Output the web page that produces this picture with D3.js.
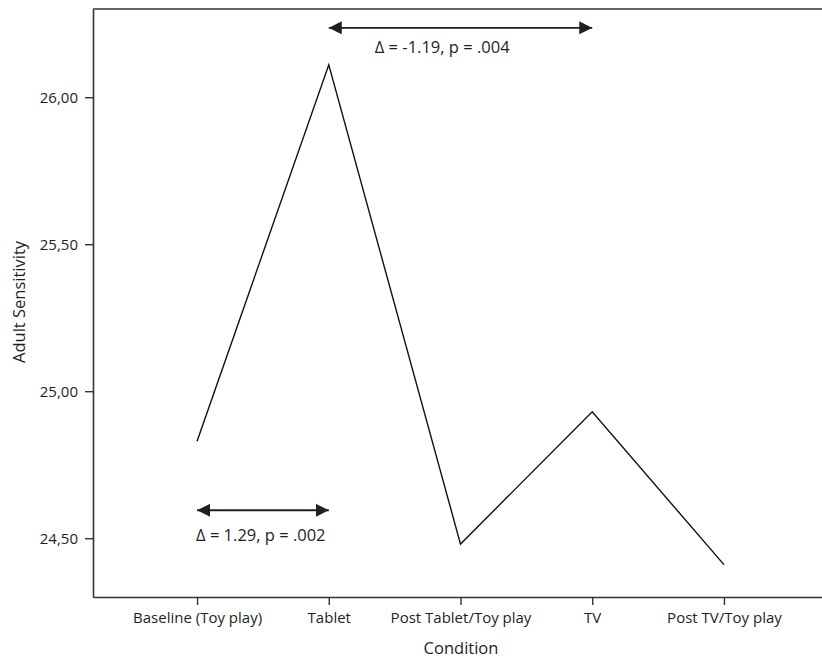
<!DOCTYPE html>
<html>
<head>
<meta charset="utf-8">
<script src="https://cdn.jsdelivr.net/npm/d3@7"></script>
<style>
  body { margin: 0; background: #fff; }
  text { font-family: "Open Sans", sans-serif; fill: #231f20; }
</style>
</head>
<body>
<div class="chart"></div>
<script>
// values
var conditions = ["Baseline (Toy play)", "Tablet", "Post Tablet/Toy play", "TV", "Post TV/Toy play"];
var sensitivity = [24.83, 26.11, 24.48, 24.93, 24.41];
var yTicks = [24.5, 25.0, 25.5, 26.0];
var comparisons = [
  {from: "Baseline (Toy play)", to: "Tablet", level: 24.595, label: "\u0394 = 1.29, p = .002"},
  {from: "Tablet", to: "TV", level: 26.236, label: "\u0394 = -1.19, p = .004"}
];

var svgWidth = 822;
var svgHeight = 660;
var margin = {top: 9, right: 0, bottom: 63, left: 93};
var width = svgWidth - margin.left - margin.right;
var height = svgHeight - margin.top - margin.bottom;

var svg = d3.select('.chart')
  .append('svg')
  .attr('width', svgWidth)
  .attr('height', svgHeight);

var chart = svg.append('g')
  .attr('transform', 'translate(' + margin.left + ',' + margin.top + ')');

// scales
var x = d3.scalePoint().domain(conditions).range([0, 735]).padding(0.79);
var y = d3.scaleLinear().domain([24.3, 26.3]).range([height, 0]);

var fmt = function(d) { return d3.format('.2f')(d).replace('.', ','); };

// y axis
var yAxis = chart.append('g')
  .call(d3.axisLeft(y).tickValues(yTicks).tickFormat(fmt).tickSize(8).tickPadding(7).tickSizeOuter(0));
yAxis.select('.domain').attr('stroke', '#333').attr('stroke-width', 1.6);
yAxis.selectAll('.tick line').attr('stroke', '#333').attr('stroke-width', 1.4);
yAxis.selectAll('.tick text').style('font-size', '15px').attr('fill', '#231f20')
  .style('font-family', '"Open Sans", sans-serif');

// x axis
var xAxis = chart.append('g')
  .attr('transform', 'translate(0,' + height + ')')
  .call(d3.axisBottom(x).tickSize(8).tickPadding(7).tickSizeOuter(0));
xAxis.select('.domain').attr('stroke', '#333').attr('stroke-width', 1.6);
xAxis.selectAll('.tick line').attr('stroke', '#333').attr('stroke-width', 1.4);
xAxis.selectAll('.tick text').style('font-size', '15px').attr('fill', '#231f20')
  .style('font-family', '"Open Sans", sans-serif');

// top frame line
chart.append('line')
  .attr('x1', 0).attr('x2', width)
  .attr('y1', 0).attr('y2', 0)
  .attr('stroke', '#333').attr('stroke-width', 1.6);

// the mean line
var line = d3.line()
  .x(function(d, i) { return x(conditions[i]); })
  .y(function(d) { return y(d); });

chart.append('path')
  .datum(sensitivity)
  .attr('d', line)
  .attr('fill', 'none')
  .attr('stroke', '#111')
  .attr('stroke-width', 1.4);

// double headed arrows for the comparisons
var defs = svg.append('defs');
defs.append('marker')
  .attr('id', 'head')
  .attr('viewBox', '0 0 12 12')
  .attr('refX', 12).attr('refY', 6)
  .attr('markerWidth', 13).attr('markerHeight', 13)
  .attr('markerUnits', 'userSpaceOnUse')
  .attr('orient', 'auto-start-reverse')
  .append('path')
  .attr('d', 'M0,0 L12,6 L0,12 Z')
  .attr('fill', '#231f20');

chart.selectAll('.cmp')
  .data(comparisons)
  .enter()
  .append('line')
  .attr('class', 'cmp')
  .attr('x1', function(d) { return x(d.from); })
  .attr('x2', function(d) { return x(d.to); })
  .attr('y1', function(d) { return y(d.level); })
  .attr('y2', function(d) { return y(d.level); })
  .attr('stroke', '#231f20')
  .attr('stroke-width', 1.8)
  .attr('marker-start', 'url(#head)')
  .attr('marker-end', 'url(#head)');

// labels under the arrows
chart.append('text')
  .attr('x', x(comparisons[0].from) - 1)
  .attr('y', y(comparisons[0].level) + 31)
  .style('font-size', '16.5px')
  .text(comparisons[0].label);

chart.append('text')
  .attr('x', x(comparisons[1].from) + 46)
  .attr('y', y(comparisons[1].level) + 25)
  .style('font-size', '16.5px')
  .text(comparisons[1].label);

// axis titles
svg.append('text')
  .attr('transform', 'translate(25,' + 302 + ') rotate(-90)')
  .style('text-anchor', 'middle')
  .style('font-size', '16.5px')
  .text('Adult Sensitivity');

svg.append('text')
  .attr('x', 461)
  .attr('y', 654)
  .style('text-anchor', 'middle')
  .style('font-size', '16.5px')
  .text('Condition');
</script>
</body>
</html>
